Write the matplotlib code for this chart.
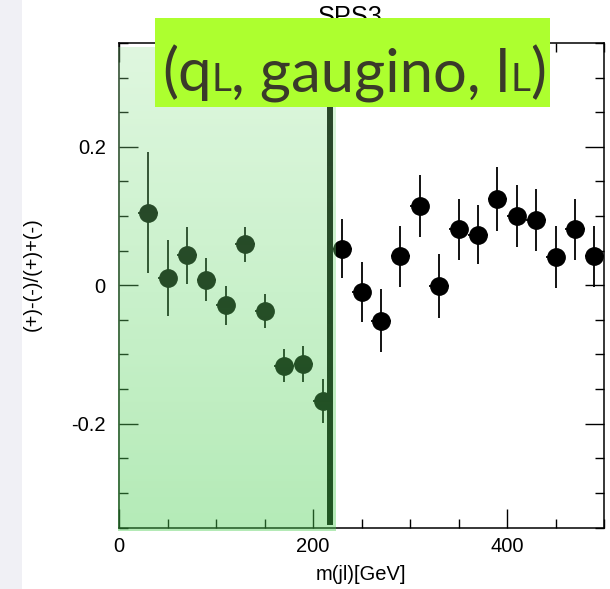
import numpy as np
import matplotlib
matplotlib.use("Agg")
import matplotlib.pyplot as plt
from matplotlib.patches import Rectangle
from matplotlib.transforms import IdentityTransform
from matplotlib.ticker import MultipleLocator, FixedLocator

plt.rcParams["font.family"] = ["Liberation Sans", "DejaVu Sans"]
plt.rcParams["axes.unicode_minus"] = False

# m(jl) bin centres [GeV] and charge asymmetry with errors
mass = [30, 50, 70, 90, 110, 130, 150, 170, 190, 210,
        230, 250, 270, 290, 310, 330, 350, 370, 390, 410, 430, 450, 470, 490]
asym = [0.105, 0.011, 0.043, 0.008, -0.029, 0.059, -0.037, -0.116, -0.114, -0.167,
        0.053, -0.010, -0.051, 0.042, 0.115, -0.001, 0.081, 0.073, 0.125, 0.100,
        0.094, 0.041, 0.081, 0.042]
asym_err = [0.087, 0.055, 0.041, 0.031, 0.028, 0.025, 0.025, 0.024, 0.026, 0.032,
            0.042, 0.043, 0.045, 0.044, 0.045, 0.046, 0.044, 0.043, 0.046, 0.045,
            0.045, 0.045, 0.044, 0.044]
bin_half_width = 10
edge_mass = 218          # end point marked by the thick line
x_ticks = [0, 200, 400]
x_ticklabels = ["0", "200", "400"]
y_ticks = [-0.2, 0.0, 0.2]
y_ticklabels = ["-0.2", "0", "0.2"]

W, H = 610, 589
fig = plt.figure(figsize=(W / 100, H / 100), dpi=100)

def fx(px):
    return px / W

def fy(py):
    return 1 - py / H

# light grey strip on the left
fig.patches.append(Rectangle((0, 0), fx(22), 1, transform=fig.transFigure,
                             facecolor="#f0f0f5", edgecolor="none", zorder=0))

ax = fig.add_axes([fx(119), fy(527.5), fx(604 - 119), (527.5 - 43) / H])
ax.errorbar(mass, asym, yerr=asym_err, xerr=bin_half_width, fmt="o",
            color="black", ms=12.5, elinewidth=1.3, capsize=0, zorder=3)
ax.axvline(edge_mass, ymin=0.011, ymax=1.0, color="black", lw=4.3, zorder=4)

ax.set_xlim(0, 500)
ax.set_ylim(-0.35, 0.35)
ax.xaxis.set_major_locator(FixedLocator(x_ticks))
ax.set_xticklabels(x_ticklabels)
ax.yaxis.set_major_locator(FixedLocator(y_ticks))
ax.set_yticklabels(y_ticklabels)
ax.xaxis.set_minor_locator(MultipleLocator(50))
ax.yaxis.set_minor_locator(MultipleLocator(0.05))
ax.tick_params(which="both", direction="in", top=True, right=True,
               width=1.0, labelsize=14.5)
ax.tick_params(axis="y", which="both", pad=9.5)
ax.tick_params(axis="x", which="both", pad=6.5)
ax.tick_params(which="major", length=13.7)
ax.tick_params(which="minor", length=6.8)
for s in ax.spines.values():
    s.set_linewidth(1.1)

fig.text(fx(361), fy(575), "m(jl)[GeV]", ha="center", va="center", fontsize=14.5)
fig.text(fx(32), fy(274), "(+)-(-)/(+)+(-)", ha="center", va="center",
         rotation=90, fontsize=14.5)
fig.text(fx(350), fy(5), "SPS3", ha="center", va="top", fontsize=18.3, zorder=1)

# translucent green gradient over the low-mass region
n = 256
t = np.linspace(0, 1, n)
top_c = np.array([223, 247, 223]) / 255
bot_c = np.array([180, 235, 183]) / 255
light = top_c[None, :] + t[:, None] * (bot_c - top_c)[None, :]
alpha = 0.30 + 0.12 * t
rgb = np.clip((light - (1 - alpha[:, None])) / alpha[:, None], 0, 1)
rgba = np.concatenate([rgb, alpha[:, None]], axis=1)[:, None, :]
ov = fig.add_axes([fx(118), fy(530.5), fx(335 - 118), (530.5 - 46.5) / H], zorder=5)
ov.imshow(rgba, aspect="auto", extent=(0, 1, 0, 1), interpolation="bilinear")
ov.set_axis_off()

# highlighted label box
box = fig.add_axes([fx(155), fy(107), fx(550 - 155), (107 - 18) / H], zorder=6)
box.set_xlim(0, 1)
box.set_ylim(0, 1)
box.add_patch(Rectangle((0, 0), 1, 1, facecolor="#adff2f", edgecolor="none"))
box.set_axis_off()

pieces = [("(q", 43), ("L", 28), (", gaugino, l", 43), ("L", 28), (")", 43)]
renderer = fig.canvas.get_renderer()
label_font = ["Lato", "DejaVu Sans"]
texts = []
x = 0.0
for s, size in pieces:
    tt = fig.text(0, 0, s, fontsize=size, family=label_font, color="#3a3a2a",
                  transform=IdentityTransform(), va="baseline", ha="left", zorder=7)
    tt.set_x(x)
    bb = tt.get_window_extent(renderer)
    texts.append(tt)
    x = bb.x1
total = x
x0 = 354 - total / 2
baseline = H - 91
for tt in texts:
    tt.set_x(tt.get_position()[0] + x0)
    tt.set_y(baseline)

fig.savefig("out.png", dpi=100)
